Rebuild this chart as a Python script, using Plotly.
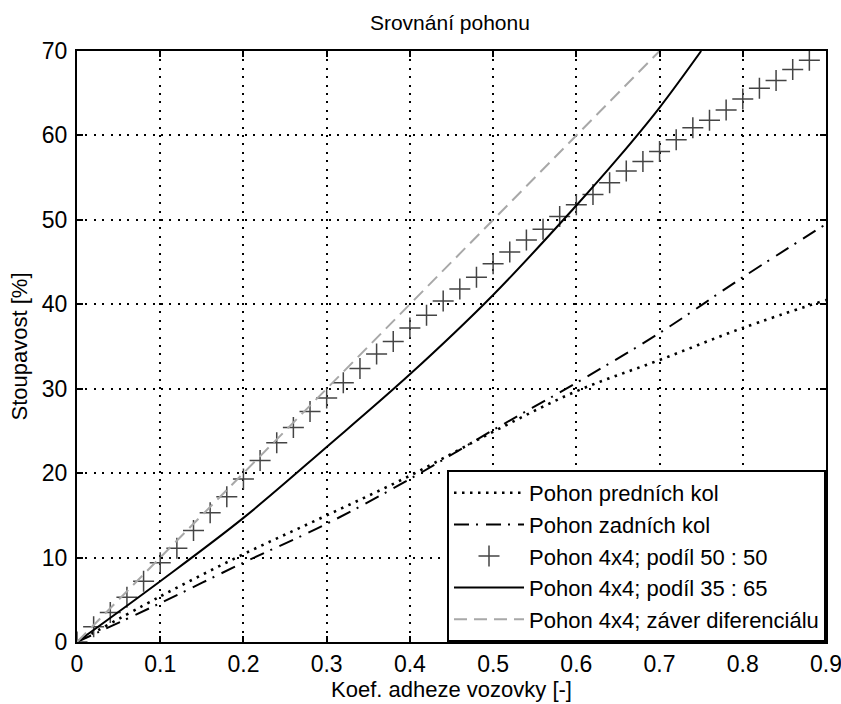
import plotly.graph_objects as go

# ---- data ----
x_front = [0, 0.1, 0.2, 0.3, 0.4, 0.5, 0.6, 0.7, 0.8, 0.9]
y_front = [0, 5.4, 10.4, 15.0, 19.7, 24.9, 29.7, 33.4, 37.2, 40.5]

x_rear = [0, 0.1, 0.2, 0.3, 0.4, 0.5, 0.6, 0.7, 0.8, 0.9]
y_rear = [0, 4.6, 9.4, 14.0, 19.3, 25.1, 30.7, 36.6, 43.2, 49.5]

x_5050 = [0, 0.02, 0.04, 0.06, 0.08, 0.10, 0.12, 0.14, 0.16, 0.18, 0.20, 0.22,
          0.24, 0.26, 0.28, 0.30, 0.32, 0.34, 0.36, 0.38, 0.40, 0.42, 0.44,
          0.46, 0.48, 0.50, 0.52, 0.54, 0.56, 0.58, 0.60, 0.62, 0.64, 0.66,
          0.68, 0.70, 0.72, 0.74, 0.76, 0.78, 0.80, 0.82, 0.84, 0.86, 0.88]
y_5050 = [0, 1.8, 3.5, 5.3, 7.2, 9.4, 11.1, 13.2, 15.3, 17.2, 19.3, 21.5,
          23.6, 25.4, 27.3, 28.9, 30.7, 32.4, 34.1, 35.6, 37.2, 38.7, 40.4,
          41.8, 43.2, 44.8, 46.2, 47.6, 48.9, 50.4, 51.8, 53.0, 54.4, 55.8,
          56.9, 58.1, 59.5, 60.9, 61.8, 63.0, 64.3, 65.6, 66.5, 67.8, 68.9]

x_3565 = [0, 0.1, 0.2, 0.3, 0.4, 0.5, 0.6, 0.65, 0.7, 0.75]
y_3565 = [0, 7.2, 14.7, 23.1, 31.7, 41.1, 51.7, 57.3, 63.3, 70.0]

x_lock = [0, 0.1, 0.2, 0.3, 0.4, 0.5, 0.6, 0.7]
y_lock = [0, 10, 20, 30, 40, 50, 60, 70]

x_ticks = [0, 0.1, 0.2, 0.3, 0.4, 0.5, 0.6, 0.7, 0.8, 0.9]
x_ticklabels = ["0", "0.1", "0.2", "0.3", "0.4", "0.5", "0.6", "0.7", "0.8", "0.9"]
y_ticks = [0, 10, 20, 30, 40, 50, 60, 70]

names = ["Pohon predních kol", "Pohon zadních kol", "Pohon 4x4; podíl 50 : 50",
         "Pohon 4x4; podíl 35 : 65", "Pohon 4x4; záver diferenciálu"]

FONT = "Liberation Sans, Arial, sans-serif"

fig = go.Figure()
fig.add_trace(go.Scatter(x=x_front, y=y_front, mode="lines", name=names[0],
                         line=dict(color="black", width=2.6, dash="2.5px,5.5px", shape="spline")))
fig.add_trace(go.Scatter(x=x_rear, y=y_rear, mode="lines", name=names[1],
                         line=dict(color="black", width=2, dash="15px,7px,2px,8px", shape="spline")))
fig.add_trace(go.Scatter(x=x_5050, y=y_5050, mode="markers", name=names[2],
                         marker=dict(symbol="cross-thin-open", size=15, color="#444444",
                                     line=dict(color="#444444", width=1.5))))
fig.add_trace(go.Scatter(x=x_3565, y=y_3565, mode="lines", name=names[3],
                         line=dict(color="black", width=2, shape="spline")))
fig.add_trace(go.Scatter(x=x_lock, y=y_lock, mode="lines", name=names[4],
                         line=dict(color="#a8a8a8", width=2, dash="13px,7px")))

axis_common = dict(
    showline=True, linecolor="black", linewidth=2, mirror="ticks",
    ticks="inside", ticklen=6, tickwidth=2, tickcolor="black",
    showgrid=True, gridcolor="black", gridwidth=1.6, griddash="2px,6.4px",
    zeroline=False, automargin=False, ticklabeloverflow="allow",
    tickfont=dict(family=FONT, size=23, color="black"),
)

fig.update_xaxes(range=[0, 0.9], tickvals=x_ticks, ticktext=x_ticklabels,
                 title=dict(text="Koef. adheze vozovky [-]", standoff=2,
                            font=dict(family=FONT, size=22, color="black")),
                 **axis_common)
fig.update_yaxes(range=[0, 70], tickvals=y_ticks, ticklabelstandoff=3,
                 title=dict(text="Stoupavost [%]", standoff=8,
                            font=dict(family=FONT, size=22, color="black")),
                 **axis_common)

fig.update_layout(
    width=841, height=704,
    margin=dict(l=77, r=15, t=51, b=62),
    paper_bgcolor="white", plot_bgcolor="white",
    title=dict(text="Srovnání pohonu", x=0.535, xanchor="center",
               y=1 - 15 / 704, yanchor="top", yref="container",
               font=dict(family=FONT, size=21, color="black")),
    font=dict(family=FONT, size=22, color="black"),
    legend=dict(x=1, y=0, xanchor="right", yanchor="bottom",
                bgcolor="white", bordercolor="black", borderwidth=2,
                font=dict(family=FONT, size=22, color="black"),
                itemwidth=70, tracegroupgap=0),
    showlegend=True,
)

fig.write_html("out.html", config={"displayModeBar": False},
               post_script="document.body.style.margin='0';document.body.style.overflow='hidden';")
